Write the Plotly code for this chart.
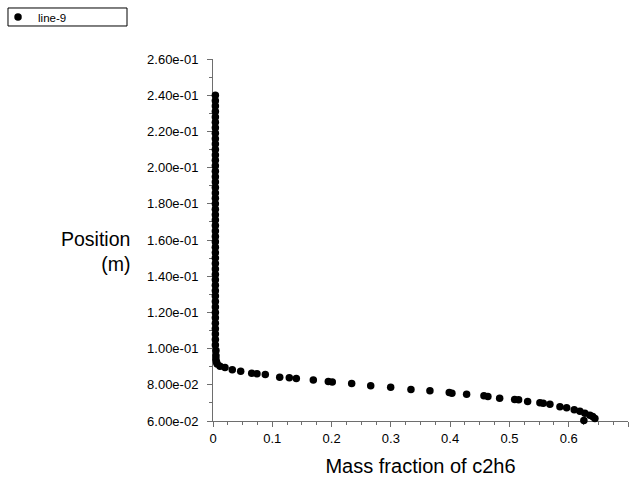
import plotly.graph_objects as go

# Probe "line-9": mass fraction of c2h6 vs. position (m)
mass_fraction = [
    0.004, 0.004, 0.004, 0.004, 0.004, 0.004, 0.004, 0.004, 0.004, 0.004,
    0.004, 0.004, 0.004, 0.004, 0.004, 0.004, 0.004, 0.004, 0.004, 0.004,
    0.004, 0.004, 0.004, 0.004, 0.004, 0.004, 0.004, 0.004, 0.004, 0.004,
    0.004, 0.004, 0.004, 0.004, 0.004, 0.004, 0.004, 0.004, 0.004, 0.004,
    0.004, 0.004, 0.004, 0.004, 0.004, 0.004, 0.004, 0.005, 0.005, 0.005,
    0.006, 0.007,
    0.0118, 0.0202, 0.0325, 0.0467, 0.0653, 0.0742, 0.0882, 0.1125, 0.1287,
    0.1405, 0.1692, 0.1945, 0.2012, 0.2339, 0.2660, 0.2997, 0.3339, 0.3659,
    0.3985, 0.4030, 0.4278, 0.4570, 0.4637, 0.4835, 0.5088, 0.5155, 0.5307,
    0.5514, 0.5570, 0.5683, 0.5852, 0.5965, 0.6093, 0.6189, 0.6273, 0.6358,
    0.6403, 0.6442, 0.6256,
]
position = [
    0.240, 0.237, 0.234, 0.231, 0.228, 0.225, 0.222, 0.219, 0.216, 0.213,
    0.210, 0.207, 0.204, 0.201, 0.198, 0.195, 0.192, 0.189, 0.186, 0.183,
    0.180, 0.177, 0.174, 0.171, 0.168, 0.165, 0.162, 0.159, 0.156, 0.153,
    0.150, 0.147, 0.144, 0.141, 0.138, 0.135, 0.132, 0.129, 0.126, 0.123,
    0.120, 0.117, 0.114, 0.111, 0.108, 0.105, 0.102, 0.099, 0.096, 0.094,
    0.0925, 0.0915,
    0.0903, 0.0896, 0.0883, 0.0875, 0.0864, 0.0861, 0.0857, 0.0842, 0.0839,
    0.0835, 0.0826, 0.0818, 0.0815, 0.0807, 0.0795, 0.0787, 0.0774, 0.0767,
    0.0758, 0.0754, 0.0748, 0.0739, 0.0736, 0.0726, 0.0719, 0.0717, 0.0708,
    0.0701, 0.0698, 0.0693, 0.0679, 0.0673, 0.0662, 0.0654, 0.0643, 0.0632,
    0.0625, 0.0614, 0.0603,
]

x_tick_vals = [0, 0.1, 0.2, 0.3, 0.4, 0.5, 0.6, 0.7]
x_tick_text = ["0", "0.1", "0.2", "0.3", "0.4", "0.5", "0.6", "0.7"]
y_tick_vals = [0.06, 0.08, 0.10, 0.12, 0.14, 0.16, 0.18, 0.20, 0.22, 0.24, 0.26]
y_tick_text = ["6.00e-02", "8.00e-02", "1.00e-01", "1.20e-01", "1.40e-01",
               "1.60e-01", "1.80e-01", "2.00e-01", "2.20e-01", "2.40e-01",
               "2.60e-01"]

FONT = "Liberation Sans, Arial, sans-serif"
AXIS_GREY = "#6e6e6e"

fig = go.Figure()
fig.add_trace(go.Scatter(
    x=mass_fraction, y=position, mode="markers", name="line-9",
    marker=dict(color="black", size=7.5, line=dict(width=0)),
    cliponaxis=False,
))

axis_common = dict(
    showgrid=False, zeroline=False, showline=True, linecolor=AXIS_GREY,
    linewidth=1, ticks="outside", ticklen=5, tickcolor=AXIS_GREY,
    tickfont=dict(family=FONT, size=13, color="black"),
    layer="below traces",
)

fig.update_xaxes(
    range=[0, 0.7], tickvals=x_tick_vals, ticktext=x_tick_text,
    minor=dict(dtick=0.025, ticks="outside", ticklen=3, tickcolor=AXIS_GREY),
    title=dict(text="Mass fraction of c2h6",
               font=dict(family=FONT, size=20, color="black"), standoff=14),
    **axis_common,
)
fig.update_yaxes(
    range=[0.06, 0.26], tickvals=y_tick_vals, ticktext=y_tick_text,
    minor=dict(dtick=0.01, ticks="outside", ticklen=3, tickcolor=AXIS_GREY),
    ticklabelstandoff=6,
    **axis_common,
)

# Horizontal y-axis caption to the left of the tick labels
fig.add_annotation(
    text="Position<br>(m)", xref="paper", yref="paper",
    x=-0.195, y=0.467, xanchor="right", yanchor="middle", align="right",
    showarrow=False, font=dict(family=FONT, size=19.5, color="black"),
)

# Legend frame
fig.add_shape(
    type="rect", xref="paper", yref="paper",
    x0=-0.494, x1=-0.2072, y0=1.0912, y1=1.1409,
    line=dict(color="black", width=1), fillcolor="white", layer="below",
)

fig.update_layout(
    width=637, height=484,
    margin=dict(l=213, r=9, t=59, b=63, autoexpand=False),
    paper_bgcolor="white", plot_bgcolor="white",
    showlegend=True,
    legend=dict(
        x=-0.518, y=1.116, xanchor="left", yanchor="middle",
        bgcolor="rgba(0,0,0,0)", borderwidth=0, itemwidth=30,
        font=dict(family=FONT, size=11.5, color="black"),
    ),
)

fig.write_html("out.html")
